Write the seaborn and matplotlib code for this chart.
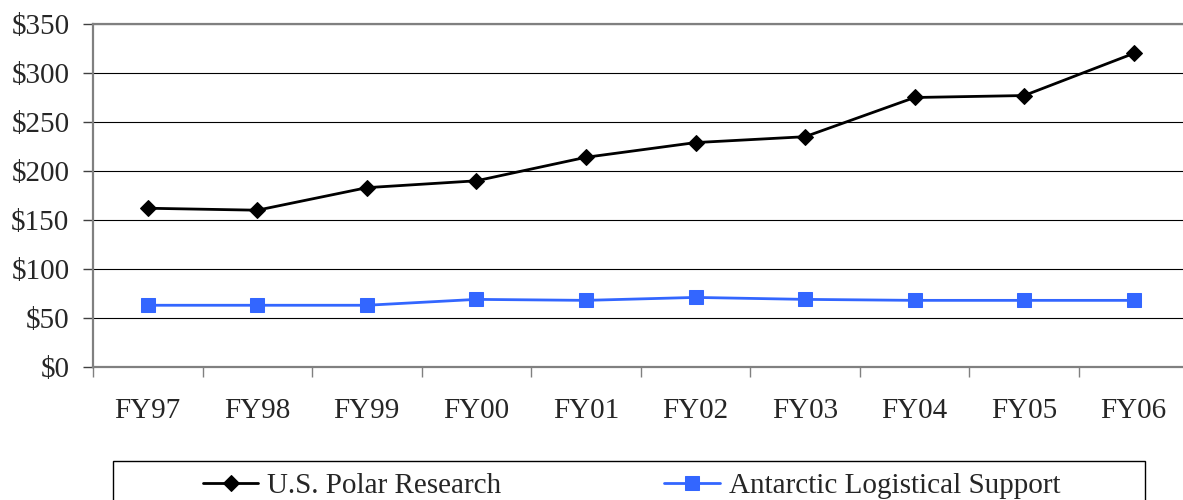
import numpy as np
import pandas as pd
import matplotlib
matplotlib.use('Agg')
import matplotlib.pyplot as plt
import seaborn as sns
from matplotlib.patches import Rectangle
from matplotlib.ticker import FixedLocator

years = ['FY97', 'FY98', 'FY99', 'FY00', 'FY01', 'FY02', 'FY03', 'FY04', 'FY05', 'FY06']
polar = [162, 160, 183, 190, 214, 229, 235, 275, 277, 320]
antarctic = [63, 63, 63, 69, 68, 71, 69, 68, 68, 68]
yticks = [0, 50, 100, 150, 200, 250, 300, 350]

sns.set_style('white')
plt.rcParams['font.family'] = ['Liberation Serif', 'DejaVu Serif']

df = pd.DataFrame({'x': np.arange(len(years)), 'polar': polar, 'antarctic': antarctic})

fig = plt.figure(figsize = (11.83, 5), dpi = 100)
ax = fig.add_axes([93 / 1183, 133 / 500, 1095.5 / 1183, 343 / 500])

sns.lineplot(data = df, x = 'x', y = 'polar', ax = ax, color = 'black', lw = 2,
             marker = 'D', ms = 8.5, mec = 'black', mfc = 'black', label = 'U.S. Polar Research')
sns.lineplot(data = df, x = 'x', y = 'antarctic', ax = ax, color = '#3366ff', lw = 2,
             marker = 's', ms = 10, mec = '#3366ff', mfc = '#3366ff', label = 'Antarctic Logistical Support')
handles, labels = ax.get_legend_handles_labels()
if ax.get_legend() is not None:
    ax.get_legend().remove()

ax.set_xlim(-0.5, len(years) - 0.5)
ax.set_ylim(0, 350)
ax.set_yticks(yticks)
ax.set_yticklabels(['$' + str(v) for v in yticks])
ax.xaxis.set_major_locator(FixedLocator(np.arange(len(years) + 1) - 0.5))
ax.xaxis.set_minor_locator(FixedLocator(np.arange(len(years))))
ax.set_xticklabels([], minor = False)
ax.set_xticklabels(years, minor = True)
ax.tick_params(axis = 'x', which = 'major', direction = 'out', length = 7, width = 1, color = '#808080', bottom = True)
ax.tick_params(axis = 'x', which = 'minor', length = 0, pad = 22, labelsize = 21)
ax.tick_params(axis = 'y', direction = 'out', length = 7, width = 1, color = '#404040', left = True, pad = 10, labelsize = 21)
ax.set_xlabel(''); ax.set_ylabel('')
ax.yaxis.grid(True, color = 'black', lw = 0.8)
ax.set_axisbelow(True)
for s in ['left', 'bottom', 'top']:
    ax.spines[s].set_color('#808080'); ax.spines[s].set_linewidth(1.6)
ax.spines['right'].set_visible(False)

fig.patches.append(Rectangle((113 / 1183, -0.05), (1145 - 113) / 1183, 0.05 + 39 / 500,
                             transform = fig.transFigure, fill = False, ec = 'black', lw = 1))
fig.legend(handles, labels, loc = 'upper center', bbox_to_anchor = (631.5 / 1183, 27 / 500), ncol = 2,
           frameon = False, fontsize = 21, handlelength = 1.9, handletextpad = 0.3, columnspacing = 5.6,
           borderpad = 0, borderaxespad = 0)

fig.savefig('out.png', dpi = 100)
